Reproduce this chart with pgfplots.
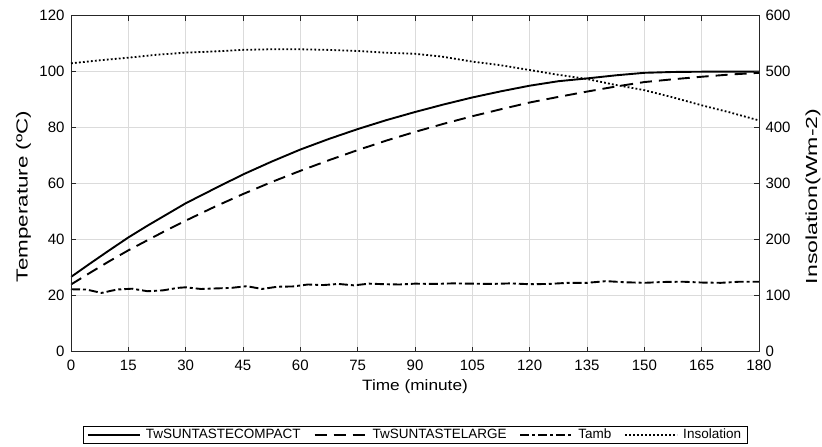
\documentclass[border=0pt]{standalone}
\usepackage{pgfplots}
\pgfplotsset{compat=1.18}
\usepackage{fontspec}
\setmainfont{Liberation Sans}
\begin{document}
\begin{tikzpicture}
\useasboundingbox (-71pt,-95.3pt) rectangle (751pt,351.7pt);
\pgfplotsset{
  common/.style={
    width=688pt, height=336pt, scale only axis,
    xmin=0, xmax=180, xtick={0,15,...,180},
    /pgf/number format/assume math mode=true,
    tick label style={font=\fontsize{15}{17}\selectfont},
    xticklabel style={yshift=-5pt},
    tick align=inside, major tick length=5pt,
    axis line style={black!85, line width=0.8pt},
    every tick/.style={black!85, line width=0.8pt},
  },
}
\begin{axis}[common,
  ymin=0, ymax=120, ytick={0,20,...,120},
  ytick pos=left, xtick pos=both,
  yticklabel style={xshift=-3pt},
  grid=major, major grid style={gray!28, line width=0.7pt},
  xlabel={Time (minute)},
  ylabel={Temperature (ºC)},
  xlabel style={font=\fontsize{15}{17}\selectfont, at={(axis description cs:0.5,-0.104)}, anchor=center, xscale=1.15},
  ylabel style={font=\fontsize{16}{18}\selectfont, at={(axis description cs:-0.069,0.462)}, anchor=center, rotate=0, xscale=1.4},
  legend columns=4,
  legend style={at={(axis description cs:0.5,-0.247)}, anchor=center, draw=black, line width=0.7pt,
    font=\fontsize{13.5}{15}\selectfont, inner xsep=4pt, inner ysep=1pt,
    /tikz/every even column/.append style={column sep=11pt},
    /tikz/every odd column/.append style={column sep=3pt}},
  legend image code/.code={\draw[#1] (0pt,0pt) -- (52pt,0pt);},
]
\addplot[black, line width=1.9pt] coordinates {
(0,26.7) (5,31.5) (10,36.2) (15,40.8) (20,45) (25,49) (30,53) (37.5,58.2) (45,63.3) (52.5,67.9) (60,72.2) (67.5,76) (75,79.5) (82.5,82.7) (90,85.6) (97.5,88.3) (105,90.8) (112.5,93) (120,95) (127.5,96.6) (135,97.6) (142.5,98.7) (150,99.6) (157.5,99.9) (165,100) (180,100)};
\addlegendentry{TwSUNTASTECOMPACT}
\addplot[black, line width=1.9pt, dash pattern=on 12pt off 7pt] coordinates {
(0,24) (5,28.2) (10,32.3) (15,36.2) (20,39.8) (25,43.4) (30,46.8) (37.5,51.7) (45,56.3) (52.5,60.6) (60,64.6) (67.5,68.4) (75,72) (82.5,75.4) (90,78.5) (97.5,81.4) (105,84.1) (112.5,86.6) (120,89) (127.5,91) (135,92.9) (142.5,94.7) (150,96.3) (157.5,97.3) (165,98.2) (172.5,99) (180,99.6)};
\addlegendentry{TwSUNTASTELARGE}
\addplot[black, line width=1.9pt, dash pattern=on 9pt off 3pt on 3pt off 3pt] coordinates {
(0,22.3) (4,22.2) (8,21.0) (12,22.2) (16,22.5) (20,21.6) (24,21.9) (28,22.8) (30,23.0) (34,22.4) (38,22.6) (42,22.8) (46,23.4) (50,22.4) (54,23.2) (58,23.3) (62,24.0) (66,23.8) (70,24.2) (74,23.7) (78,24.3) (82,24.1) (86,24.0) (90,24.3) (95,24.2) (100,24.4) (105,24.3) (110,24.2) (115,24.4) (120,24.1) (125,24.2) (130,24.6) (135,24.6) (140,25.2) (145,24.8) (150,24.6) (155,24.9) (160,25.0) (165,24.7) (170,24.6) (175,25.0) (180,25.0)};
\addlegendentry{Tamb}
\addlegendimage{black, line width=1.8pt, dash pattern=on 1.8pt off 2.2pt}
\addlegendentry{Insolation}
\end{axis}
\begin{axis}[common,
  ymin=0, ymax=600, ytick={0,100,...,600},
  ytick pos=right, xtick pos=both, xticklabels={},
  yticklabel style={xshift=3pt},
  hide x axis,
  ylabel={Insolation(Wm-2)},
  ylabel style={font=\fontsize{16}{18}\selectfont, at={(axis description cs:1.0785,0.462)}, anchor=center, rotate=0, xscale=1.44},
]
\addplot[black, line width=1.8pt, dash pattern=on 1.8pt off 2.2pt] coordinates {
(0,515) (7,520) (15,525) (22,530) (30,534) (37,536) (45,539) (52,540) (60,540) (67,539) (75,537) (82,534) (90,532) (97,527) (105,518) (112,512) (120,503) (127,495) (135,487) (142,477) (150,467) (157,455) (165,440) (172,428) (180,413)};
\end{axis}
\end{tikzpicture}
\end{document}
